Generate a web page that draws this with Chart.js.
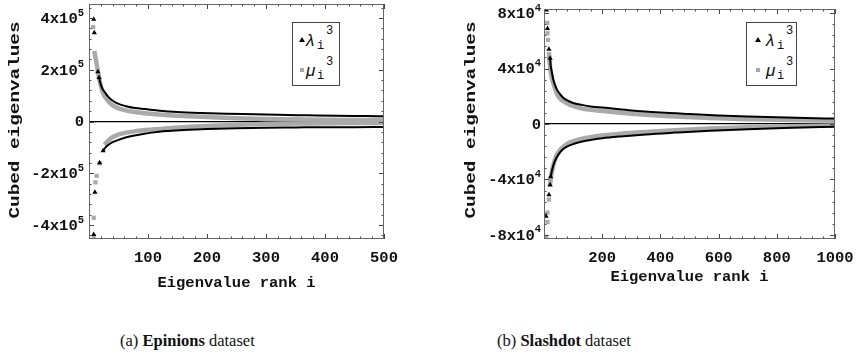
<!DOCTYPE html>
<html>
<head>
<meta charset="utf-8">
<script src="https://cdn.jsdelivr.net/npm/chart.js@4.4.0/dist/chart.umd.min.js"></script>
<style>
  body { margin: 0; background: #fff; width: 856px; height: 354px; overflow: hidden; position: relative; }
  .panel { position: absolute; top: 0; }
  .leg { position: absolute; border: 1px solid #444; background: #fff; box-sizing: border-box; }
  .leg span { position: absolute; white-space: nowrap; }
  .tri { width: 0; height: 0; border-left: 3px solid transparent; border-right: 3px solid transparent; border-bottom: 5px solid #000; }
  .sq { width: 4px; height: 4px; background: #aaa; }
  .sym { font: italic 17px/17px 'Liberation Sans', sans-serif; color: #111; }
  .sub, .sup { font: 12px/12px 'Liberation Mono', monospace; color: #111; }
  .cap { position: absolute; top: 331px; font: 16.5px/20px 'Liberation Serif', serif; white-space: nowrap; color: #111; }
</style>
</head>
<body>
<div class="panel" style="left:0;width:430px;height:296px"><canvas id="chartA"></canvas></div>
<div class="panel" style="left:458px;width:398px;height:290px"><canvas id="chartB"></canvas></div>

<div class="leg" style="left:292px;top:22px;width:48px;height:64px">
  <span class="tri" style="left:6px;top:14px"></span>
  <span class="sym" style="left:13px;top:9px">λ</span>
  <span class="sub" style="left:24px;top:17px">i</span>
  <span class="sup" style="left:33px;top:2px">3</span>
  <span class="sq" style="left:7px;top:45px"></span>
  <span class="sym" style="left:13px;top:39px">μ</span>
  <span class="sub" style="left:24px;top:47px">i</span>
  <span class="sup" style="left:33px;top:33px">3</span>
</div>
<div class="leg" style="left:746px;top:22px;width:51px;height:64px">
  <span class="tri" style="left:8px;top:14px"></span>
  <span class="sym" style="left:19px;top:9px">λ</span>
  <span class="sub" style="left:30px;top:17px">i</span>
  <span class="sup" style="left:39px;top:2px">3</span>
  <span class="sq" style="left:9px;top:45px"></span>
  <span class="sym" style="left:19px;top:39px">μ</span>
  <span class="sub" style="left:30px;top:47px">i</span>
  <span class="sup" style="left:39px;top:33px">3</span>
</div>

<div class="cap" style="left:120px">(a) <b>Epinions</b> dataset</div>
<div class="cap" style="left:497px">(b) <b>Slashdot</b> dataset</div>

<script>
// (a) Epinions: [rank, cubed eigenvalue]
// head = the separate markers at the first ranks, tail = the dense run of markers
const aLamPosHead = [[8, 3.95e5], [9, 3.43e5], [15, 1.92e5], [17, 1.70e5]];
const aLamPosTail = [[17, 1.70e5], [19, 1.51e5], [22, 1.30e5], [27, 1.13e5], [32, 0.97e5], [38, 0.84e5],
  [48, 0.70e5], [61, 0.60e5], [78, 0.52e5], [95, 0.48e5], [120, 0.42e5], [150, 0.37e5], [190, 0.33e5],
  [233, 0.30e5], [280, 0.28e5], [320, 0.26e5], [370, 0.24e5], [420, 0.22e5], [470, 0.21e5], [500, 0.20e5]];
const aMuPosHead = [[7, 3.65e5]];
const aMuPosTail = [[9, 2.73e5], [10, 2.58e5], [12, 2.35e5], [15, 1.95e5], [18, 1.58e5], [21, 1.30e5],
  [24, 1.08e5], [30, 0.86e5], [36, 0.70e5], [45, 0.56e5], [60, 0.44e5], [80, 0.36e5], [105, 0.30e5],
  [130, 0.25e5], [160, 0.21e5], [200, 0.17e5], [250, 0.13e5], [300, 0.10e5], [350, 0.085e5],
  [400, 0.07e5], [450, 0.06e5], [500, 0.055e5]];
const aLamNegHead = [[8, -4.37e5], [10, -2.73e5], [18, -1.59e5], [24, -1.13e5]];
const aLamNegTail = [[24, -1.13e5], [28, -1.00e5], [32, -0.92e5], [40, -0.80e5], [50, -0.71e5],
  [62, -0.62e5], [77, -0.54e5], [92, -0.48e5], [106, -0.43e5], [130, -0.37e5], [160, -0.33e5],
  [200, -0.29e5], [250, -0.26e5], [300, -0.24e5], [350, -0.23e5], [400, -0.22e5], [450, -0.22e5], [500, -0.21e5]];
const aMuNegHead = [[8, -4.45e5], [8, -3.72e5], [11, -2.35e5], [13, -2.10e5], [18, -1.62e5]];
const aMuNegTail = [[26, -0.90e5], [30, -0.80e5], [38, -0.63e5], [48, -0.52e5], [61, -0.44e5],
  [80, -0.37e5], [100, -0.32e5], [130, -0.27e5], [160, -0.22e5], [200, -0.17e5], [250, -0.13e5],
  [300, -0.10e5], [350, -0.08e5], [400, -0.07e5], [450, -0.06e5], [500, -0.055e5]];

// (b) Slashdot
const bLamPosHead = [[8, 8.23e4], [12, 6.90e4], [17, 5.40e4], [21, 4.75e4]];
const bLamPosTail = [[21, 4.75e4], [23, 4.20e4], [26, 3.85e4], [32, 3.20e4], [38, 2.80e4], [44, 2.50e4],
  [55, 2.15e4], [66, 1.90e4], [80, 1.70e4], [100, 1.52e4], [130, 1.38e4], [160, 1.27e4], [220, 1.15e4],
  [300, 0.98e4], [400, 0.83e4], [500, 0.72e4], [600, 0.62e4], [700, 0.54e4], [800, 0.48e4],
  [900, 0.43e4], [1000, 0.39e4]];
const bMuPosHead = [[11, 7.30e4], [12, 6.55e4], [14, 6.07e4]];
const bMuPosTail = [[17, 5.20e4], [20, 4.30e4], [24, 3.60e4], [32, 2.95e4], [40, 2.40e4], [49, 2.00e4],
  [60, 1.75e4], [78, 1.50e4], [100, 1.30e4], [124, 1.15e4], [160, 1.02e4], [220, 0.90e4], [262, 0.82e4],
  [350, 0.67e4], [450, 0.54e4], [570, 0.43e4], [700, 0.35e4], [850, 0.28e4], [1000, 0.23e4]];
const bLamNegHead = [[7, -6.65e4], [17, -5.10e4], [21, -4.40e4], [23, -3.80e4]];
const bLamNegTail = [[23, -3.80e4], [28, -3.30e4], [35, -2.80e4], [44, -2.40e4], [55, -2.05e4],
  [66, -1.80e4], [80, -1.62e4], [100, -1.45e4], [124, -1.30e4], [160, -1.15e4], [200, -1.03e4],
  [262, -0.90e4], [350, -0.75e4], [450, -0.62e4], [570, -0.48e4], [700, -0.37e4], [850, -0.27e4], [1000, -0.19e4]];
const bMuNegHead = [[7, -8.14e4], [12, -7.08e4], [12, -6.40e4], [17, -5.45e4]];
const bMuNegTail = [[20, -4.50e4], [24, -3.80e4], [32, -3.00e4], [40, -2.40e4], [49, -2.05e4],
  [60, -1.75e4], [78, -1.45e4], [100, -1.25e4], [124, -1.10e4], [160, -0.95e4], [200, -0.83e4],
  [262, -0.70e4], [350, -0.57e4], [450, -0.45e4], [570, -0.33e4], [700, -0.24e4], [850, -0.16e4], [1000, -0.10e4]];

// axes
const aXTicks = [100, 200, 300, 400, 500];
const aYTicks = [-4e5, -2e5, 0, 2e5, 4e5];
const aYLabels = ['-4x10', '-2x10', '0', '2x10', '4x10'];
const aYSups = ['5', '5', '', '5', '5'];
const bXTicks = [200, 400, 600, 800, 1000];
const bYTicks = [-8e4, -4e4, 0, 4e4, 8e4];
const bYLabels = ['-8x10', '-4x10', '0', '4x10', '8x10'];
const bYSups = ['4', '4', '', '4', '4'];

const BLACK = '#000';
const GRAY = '#aaaaaa';
const MONO = "'Liberation Mono', 'DejaVu Sans Mono', monospace";

Chart.defaults.font.family = MONO;
Chart.defaults.color = '#111';

const pts = arr => arr.map(([x, y]) => ({ x, y }));

function head(arr, color, style, r) {
  return { data: pts(arr), showLine: false, pointStyle: style, pointRadius: r,
    pointBackgroundColor: color, pointBorderWidth: 0, pointHoverRadius: r };
}
function tail(arr, color, w) {
  return { data: pts(arr), showLine: true, borderColor: color, borderWidth: w,
    pointRadius: 0, cubicInterpolationMode: 'monotone' };
}

// frame, inward ticks, y labels with superscripts and stretched y title
const framePlugin = {
  id: 'frame',
  afterDraw(chart, args, o) {
    const { ctx, chartArea: a } = chart;
    const xs = chart.scales.x, ys = chart.scales.y;
    ctx.save();
    ctx.strokeStyle = '#444';
    ctx.lineWidth = 1;
    ctx.beginPath();
    for (let k = Math.ceil(xs.min / o.xMinor); k * o.xMinor <= xs.max; k++) {
      const v = k * o.xMinor;
      const px = Math.round(xs.getPixelForValue(v)) + 0.5;
      const len = v % o.xMajor === 0 ? 5 : 2.5;
      ctx.moveTo(px, a.bottom); ctx.lineTo(px, a.bottom - len);
      ctx.moveTo(px, a.top); ctx.lineTo(px, a.top + len);
    }
    for (let k = Math.ceil(ys.min / o.yMinor); k * o.yMinor <= ys.max; k++) {
      const v = k * o.yMinor;
      const py = Math.round(ys.getPixelForValue(v)) + 0.5;
      const len = v % o.yMajor === 0 ? 5 : 2.5;
      ctx.moveTo(a.left, py); ctx.lineTo(a.left + len, py);
      ctx.moveTo(a.right, py); ctx.lineTo(a.right - len, py);
    }
    ctx.stroke();
    ctx.strokeStyle = '#666';
    ctx.strokeRect(Math.round(a.left) + 0.5, Math.round(a.top) + 0.5,
      Math.round(a.width) - 1, Math.round(a.height) - 1);

    // y tick labels
    ctx.fillStyle = '#111';
    ctx.textBaseline = 'middle';
    const mainFont = 'bold 15.5px ' + MONO, supFont = 'bold 10.5px ' + MONO;
    o.yTicks.forEach((v, i) => {
      const py = ys.getPixelForValue(v);
      const right = a.left - o.labelPad;
      ctx.font = supFont;
      const ws = o.ySups[i] ? ctx.measureText(o.ySups[i]).width : 0;
      ctx.font = mainFont;
      ctx.textAlign = 'right';
      ctx.fillText(o.yLabels[i], right - ws, py + 1);
      if (o.ySups[i]) {
        ctx.font = supFont;
        ctx.textAlign = 'left';
        ctx.fillText(o.ySups[i], right - ws, py - 5);
      }
    });

    // y title
    ctx.translate(o.titleX, o.titleY);
    ctx.rotate(-Math.PI / 2);
    ctx.scale(1.38, 1);
    ctx.font = 'bold 14px ' + MONO;
    ctx.textAlign = 'center';
    ctx.fillText('Cubed eigenvalues', 0, 0);
    ctx.restore();
  }
};

function makeChart(id, sets, cfg) {
  const c = document.getElementById(id);
  new Chart(c, {
    type: 'scatter',
    data: { datasets: sets },
    options: {
      responsive: true,
      maintainAspectRatio: false,
      animation: false,
      events: [],
      layout: { padding: { top: cfg.padTop, right: cfg.padRight, left: 0, bottom: 0 } },
      plugins: {
        legend: { display: false },
        tooltip: { enabled: false },
        frame: cfg.frame
      },
      scales: {
        x: {
          type: 'linear',
          min: 0,
          max: cfg.xMax,
          afterBuildTicks: s => { s.ticks = cfg.xTicks.map(v => ({ value: v })); },
          afterFit: s => { s.height = cfg.xHeight; },
          grid: { display: false },
          border: { display: false },
          ticks: { padding: 2, color: '#111', font: { size: 15.5, weight: 'bold' },
            callback: v => String(v) },
          title: { display: true, text: 'Eigenvalue rank i', color: '#111',
            font: { size: 15.5, weight: 'bold' }, padding: { top: 4, bottom: 4 } }
        },
        y: {
          type: 'linear',
          min: -cfg.yMax,
          max: cfg.yMax,
          afterBuildTicks: s => { s.ticks = cfg.yTicks.map(v => ({ value: v })); },
          afterFit: s => { s.width = cfg.yWidth; },
          ticks: { display: false },
          border: { display: false },
          grid: {
            drawTicks: false,
            lineWidth: 1.3,
            color: c => (c.tick && c.tick.value === 0 ? '#000' : 'rgba(0,0,0,0)')
          }
        }
      }
    },
    plugins: [framePlugin]
  });
}

makeChart('chartA', [
  head(aLamPosHead, BLACK, 'triangle', 3),
  head(aLamNegHead, BLACK, 'triangle', 3),
  tail(aLamPosTail, BLACK, 2),
  tail(aLamNegTail, BLACK, 2),
  head(aMuPosHead, GRAY, 'rect', 3),
  head(aMuNegHead, GRAY, 'rect', 3),
  tail(aMuPosTail, GRAY, 4.5),
  tail(aMuNegTail, GRAY, 4.5)
], {
  xMax: 500, yMax: 4.54e5, xTicks: aXTicks, yTicks: aYTicks,
  padTop: 4, padRight: 46, xHeight: 57, yWidth: 89,
  frame: { xMinor: 20, xMajor: 100, yMinor: 4e4, yMajor: 2e5, yTicks: aYTicks,
    yLabels: aYLabels, ySups: aYSups, labelPad: 5, titleX: 15, titleY: 120 }
});

makeChart('chartB', [
  head(bLamPosHead, BLACK, 'triangle', 3),
  head(bLamNegHead, BLACK, 'triangle', 3),
  tail(bLamPosTail, BLACK, 2),
  tail(bLamNegTail, BLACK, 2),
  head(bMuPosHead, GRAY, 'rect', 3),
  head(bMuNegHead, GRAY, 'rect', 3),
  tail(bMuPosTail, GRAY, 4.5),
  tail(bMuNegTail, GRAY, 4.5)
], {
  xMax: 1000, yMax: 8.3e4, xTicks: bXTicks, yTicks: bYTicks,
  padTop: 9, padRight: 21, xHeight: 51, yWidth: 86,
  frame: { xMinor: 40, xMajor: 200, yMinor: 8e3, yMajor: 4e4, yTicks: bYTicks,
    yLabels: bYLabels, ySups: bYSups, labelPad: 3, titleX: 13, titleY: 120 }
});
</script>
</body>
</html>
